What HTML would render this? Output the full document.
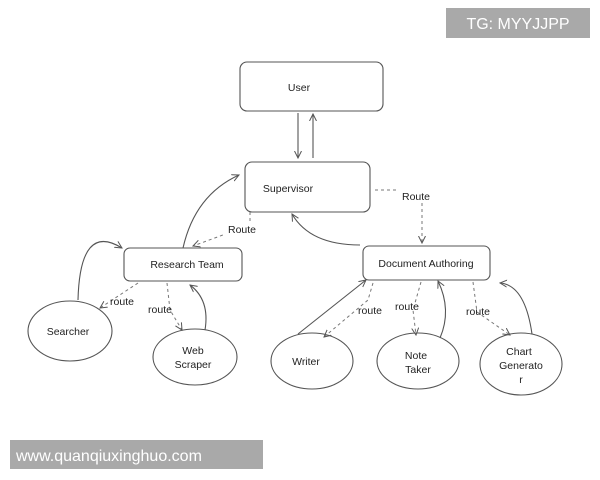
<!DOCTYPE html>
<html><head><meta charset="utf-8"><style>
html,body{margin:0;padding:0;background:#fff;width:600px;height:480px;overflow:hidden}
svg{display:block}
text{font-family:"Liberation Sans",sans-serif;font-size:10.5px;fill:#222}
</style></head><body>
<svg width="600" height="480" viewBox="0 0 600 480">
<defs>
<marker id="a" markerWidth="8" markerHeight="8" refX="7" refY="4" orient="auto" markerUnits="userSpaceOnUse">
<path d="M0,0.5 L7,4 L0,7.5" fill="none" stroke="#555" stroke-width="1"/></marker>
</defs>
<rect x="446" y="8" width="144" height="30" fill="#a9a9a9"/>
<text x="518" y="29" text-anchor="middle" style="font-size:16px;fill:#fff">TG: MYYJJPP</text>
<rect x="10" y="440" width="253" height="29" fill="#a9a9a9"/>
<text x="16" y="461" style="font-size:16px;fill:#fff">www.quanqiuxinghuo.com</text>
<g fill="none" stroke="#555" stroke-width="1.1">
<rect x="240" y="62" width="143" height="49" rx="7"/>
<rect x="245" y="162" width="125" height="50" rx="7"/>
<rect x="124" y="248" width="118" height="33" rx="6"/>
<rect x="363" y="246" width="127" height="34" rx="6"/>
<ellipse cx="70" cy="331" rx="42" ry="30"/>
<ellipse cx="195" cy="357" rx="42" ry="28"/>
<ellipse cx="312" cy="361" rx="41" ry="28"/>
<ellipse cx="418" cy="361" rx="41" ry="28"/>
<ellipse cx="521" cy="364" rx="41" ry="31"/>
<path d="M298,113 L298,158" marker-end="url(#a)"/>
<path d="M313,158 L313,114" marker-end="url(#a)"/>
<path d="M183,248 Q195,195 239,175" marker-end="url(#a)"/>
<path d="M360,245 Q310,245 292,214" marker-end="url(#a)"/>
<path d="M78,300 Q80,222 122,248" marker-end="url(#a)"/>
<path d="M205,330 Q210,300 190,285" marker-end="url(#a)"/>
<path d="M298,334 L366,280" marker-end="url(#a)"/>
<path d="M440,338 Q452,310 438,281" marker-end="url(#a)"/>
<path d="M532,334 Q525,285 500,283" marker-end="url(#a)"/>
</g>
<g fill="none" stroke="#777" stroke-width="1" stroke-dasharray="3,3">
<path d="M250,212 L250,225 L193,246" marker-end="url(#a)"/>
<path d="M375,190 L422,190 L422,243" marker-end="url(#a)"/>
<path d="M138,283 L100,308" marker-end="url(#a)"/>
<path d="M167,283 L170,310 L182,330" marker-end="url(#a)"/>
<path d="M373,283 L368,300 L324,337" marker-end="url(#a)"/>
<path d="M421,282 L413,310 L416,335" marker-end="url(#a)"/>
<path d="M473,282 L477,312 L510,335" marker-end="url(#a)"/>
</g>
<g>
<rect x="223" y="222" width="38" height="14" fill="#fff"/>
<text x="242" y="233" text-anchor="middle">Route</text>
<rect x="398" y="189" width="36" height="14" fill="#fff"/>
<text x="416" y="200" text-anchor="middle">Route</text>
<text x="122" y="305" text-anchor="middle">route</text>
<text x="160" y="313" text-anchor="middle">route</text>
<text x="370" y="314" text-anchor="middle">route</text>
<text x="407" y="310" text-anchor="middle">route</text>
<text x="478" y="315" text-anchor="middle">route</text>
<text x="299" y="91" text-anchor="middle">User</text>
<text x="288" y="192" text-anchor="middle">Supervisor</text>
<text x="187" y="268" text-anchor="middle">Research Team</text>
<text x="426" y="267" text-anchor="middle">Document Authoring</text>
<text x="68" y="335" text-anchor="middle">Searcher</text>
<text x="193" y="354" text-anchor="middle">Web</text>
<text x="193" y="368" text-anchor="middle">Scraper</text>
<text x="306" y="365" text-anchor="middle">Writer</text>
<text x="416" y="359" text-anchor="middle">Note</text>
<text x="418" y="373" text-anchor="middle">Taker</text>
<text x="519" y="355" text-anchor="middle">Chart</text>
<text x="521" y="369" text-anchor="middle">Generato</text>
<text x="521" y="383" text-anchor="middle">r</text>
</g>
</svg>
</body></html>
